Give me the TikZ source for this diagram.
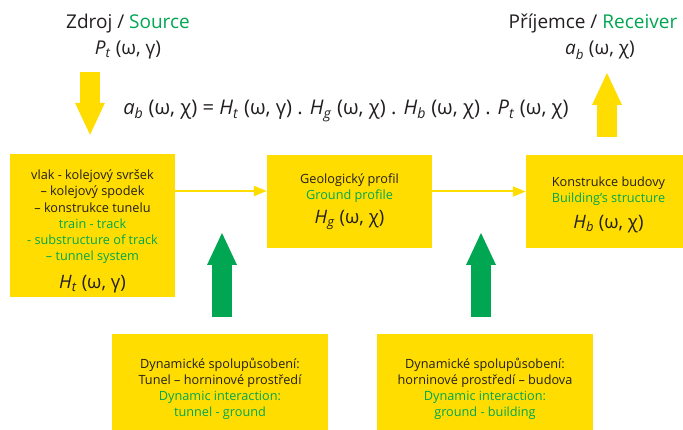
\documentclass[tikz,border=0pt]{standalone}
\usepackage{fontspec}
\setmainfont{Open Sans}
\usetikzlibrary{arrows.meta,calc}
\definecolor{boxyellow}{HTML}{FFDD00}
\definecolor{engreen}{HTML}{00A651}
\definecolor{txtblack}{HTML}{231F20}
\newcommand{\en}[1]{\textcolor{engreen}{#1}}
\newcommand{\fn}[2]{\textit{#1}\textsubscript{\textit{#2}}}
\newcommand{\bigfn}{\fontsize{18.5}{22}\selectfont}

\begin{document}
\begin{tikzpicture}[x=1pt, y=-1pt,
    block/.style={fill=boxyellow, text=txtblack, minimum width=165pt, align=center, inner sep=0pt, font=\fontsize{12.7}{16.2}\selectfont},
    title/.style={text=txtblack, align=center, font=\fontsize{19}{26}\selectfont},
    flow/.style={draw=boxyellow, line width=2pt, -{Triangle[length=13pt, width=10pt]}},
    fat/.style={line width=20pt, -{Triangle[length=32pt, width=30pt, line width=0pt]}},
]
\useasboundingbox (0,0) rectangle (683,430);
% labels and formula
\node[title] (src) at (128,37) {Zdroj / \en{Source}\\ \fn{P}{t} (ω, γ)};
\node[title] (rcv) at (593,37) {Příjemce / \en{Receiver}\\ \hspace*{14pt}\fn{a}{b} (ω, χ)};
\node[title, font=\fontsize{20.2}{24}\selectfont] (eq) at (346,111) {\fn{a}{b} (ω, χ) = \fn{H}{t} (ω, γ) . \fn{H}{g} (ω, χ) . \fn{H}{b} (ω, χ) . \fn{P}{t} (ω, χ)};
% transfer blocks
\node[block, minimum height=143pt] (ht) at (92.5,225.5) {\rule{0pt}{22pt}vlak - kolejový svršek\\ – kolejový spodek\\ – konstrukce tunelu\\ \en{train - track}\\ \en{- substructure of track}\\ \en{– tunnel system}\\[11pt] {\bigfn \fn{H}{t} (ω, γ)}};
\node[block, minimum height=93pt] (hg) at (349.5,201.5) {Geologický profil\\ \en{Ground profile}\\[7pt] {\bigfn \fn{H}{g} (ω, χ)}};
\node[block, minimum height=93pt] (hb) at (608.5,201.5) {\rule{0pt}{16pt}Konstrukce budovy\\ \en{Building’s structure}\\[8pt] {\bigfn \fn{H}{b} (ω, χ)}};
% interaction blocks
\node[block, minimum width=216pt, minimum height=110pt] (tg) at (220,389) {Dynamické spolupůsobení:\\ Tunel – horninové prostředí\\ \en{Dynamic interaction:}\\ \en{tunnel - ground}};
\node[block, minimum width=216pt, minimum height=110pt] (gb) at (485,389) {Dynamické spolupůsobení:\\ horninové prostředí – budova\\ \en{Dynamic interaction:}\\ \en{ground - building}};
% connectors
\draw[flow] ([yshift=34.5pt]ht.east) -- ([yshift=10.5pt]hg.west);
\draw[flow] ([yshift=10pt]hg.east) -- ([yshift=10pt]hb.west);
\coordinate (srcfoot) at (90,72);
\coordinate (rcvhead) at (607,73);
\coordinate (tgtip) at (222,233);
\coordinate (gbtip) at (481,233);
\draw[fat, color=boxyellow, shorten >=19pt] (srcfoot) -- (srcfoot |- ht.north);
\draw[fat, color=boxyellow, shorten <=18pt] (rcvhead |- hb.north) -- (rcvhead);
\draw[fat, color=engreen, shorten <=17pt] (tgtip |- tg.north) -- (tgtip);
\draw[fat, color=engreen, shorten <=17pt] (gbtip |- gb.north) -- (gbtip);
\end{tikzpicture}
\end{document}
